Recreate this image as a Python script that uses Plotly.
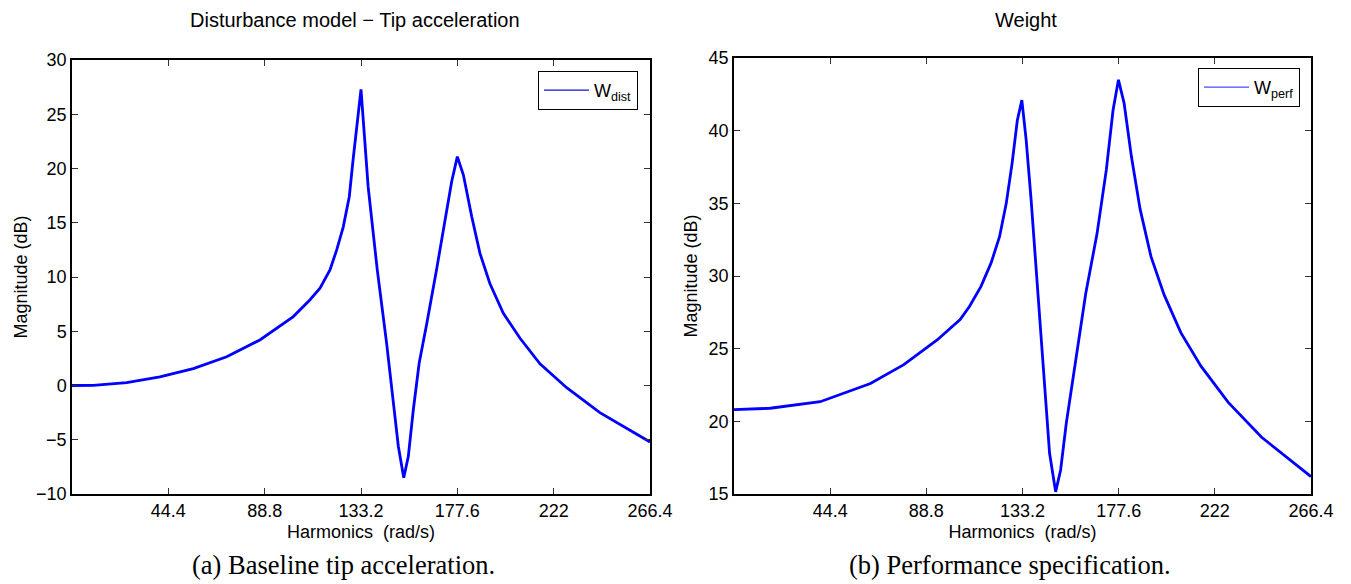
import plotly.graph_objects as go

# ---- data ----
x_dist = [0, 9.8, 25.2, 40.5, 55.9, 71.3, 86.6, 102.0, 109.7, 114.3, 118.9, 122.0, 125.0, 127.8, 129.6,
          133.2, 136.5, 140.7, 145.0, 150.4, 152.9, 155.0, 157.3, 160.0, 163.5, 168.0, 175.0, 177.6,
          180.4, 184.2, 188.0, 192.6, 198.8, 206.5, 215.7, 228.0, 243.3, 266.4]
y_dist = [0.0, 0.02, 0.26, 0.8, 1.55, 2.65, 4.2, 6.35, 7.9, 8.96, 10.65, 12.5, 14.6, 17.4, 20.9,
          27.3, 18.3, 10.65, 3.9, -5.6, -8.5, -6.55, -2.26, 2.05, 5.7, 10.65, 18.8, 21.1,
          19.4, 15.6, 12.2, 9.4, 6.65, 4.35, 2.0, -0.2, -2.5, -5.2]

x_perf = [0, 16.7, 39.8, 63.0, 78.4, 93.8, 104.4, 108.7, 114.1, 118.7, 122.6, 125.7, 128.4, 130.8,
          132.9, 134.9, 137.2, 139.5, 141.9, 145.7, 148.5, 150.8, 153.4, 157.3, 162.4, 167.6, 171.9,
          175.0, 177.5, 180.1, 183.5, 187.5, 192.5, 198.6, 206.3, 215.6, 228.2, 243.6, 266.4]
y_perf = [20.8, 20.9, 21.35, 22.6, 23.9, 25.6, 27.0, 27.9, 29.3, 30.9, 32.7, 35.0, 37.75, 40.7,
          42.1, 39.35, 35.2, 30.6, 25.8, 17.8, 15.15, 16.65, 19.85, 23.75, 28.8, 32.9, 37.3,
          41.4, 43.5, 41.9, 38.2, 34.6, 31.35, 28.7, 26.1, 23.8, 21.3, 18.9, 16.2]

x_ticks = [44.4, 88.8, 133.2, 177.6, 222, 266.4]
x_ticklabels = ["44.4", "88.8", "133.2", "177.6", "222", "266.4"]
y_ticks_dist = [-10, -5, 0, 5, 10, 15, 20, 25, 30]
y_ticks_perf = [15, 20, 25, 30, 35, 40, 45]

titles = ["Disturbance model \u2212 Tip acceleration", "Weight"]
captions = ["(a) Baseline tip acceleration.", "(b) Performance specification."]
legend_names = ["W<sub>dist</sub>", "W<sub>perf</sub>"]
x_title = "Harmonics  (rad/s)"
y_title = "Magnitude (dB)"

# ---- layout geometry (page body has an 8px margin, so the figure is offset by it) ----
OFF = 8
W, H = 1351 - OFF, 584 - OFF
def px_x(p): return (p - OFF) / W
def px_y(p): return 1 - (p - OFF) / H

SANS = "Liberation Sans, Arial, sans-serif"
SERIF = "Liberation Serif, Times New Roman, serif"
FS = 18

fig = go.Figure()

fig.add_trace(go.Scatter(x=x_dist, y=y_dist, mode="lines", line=dict(color="#0000ff", width=2.8),
                         xaxis="x", yaxis="y", showlegend=False))
fig.add_trace(go.Scatter(x=[None], y=[None], mode="lines", line=dict(color="#1010c8", width=1.2),
                         xaxis="x", yaxis="y", name=legend_names[0], legend="legend"))
fig.add_trace(go.Scatter(x=x_perf, y=y_perf, mode="lines", line=dict(color="#0000ff", width=2.8),
                         xaxis="x2", yaxis="y2", showlegend=False))
fig.add_trace(go.Scatter(x=[None], y=[None], mode="lines", line=dict(color="#4a4aff", width=1.2),
                         xaxis="x2", yaxis="y2", name=legend_names[1], legend="legend2"))

axis_common = dict(showgrid=False, zeroline=False, showline=True, linecolor="black", linewidth=1.5,
                   mirror="ticks", ticks="inside", ticklen=6, tickwidth=1, tickcolor="#333333",
                   automargin=False,
                   tickfont=dict(family=SANS, size=FS, color="black"))
title_font = dict(family=SANS, size=FS, color="black")

leg_common = dict(xanchor="right", yanchor="top", bordercolor="black", borderwidth=1, bgcolor="white",
                  font=dict(family=SANS, size=FS, color="black"), itemwidth=45, tracegroupgap=0)

fig.update_layout(
    width=W, height=H, autosize=False,
    margin=dict(l=0, r=0, t=0, b=0, pad=0, autoexpand=False),
    paper_bgcolor="white", plot_bgcolor="white",
    xaxis=dict(domain=[px_x(72), px_x(650)], range=[0, 266.4], anchor="y",
               tickvals=x_ticks, ticktext=x_ticklabels,
               title=dict(text=x_title, font=title_font, standoff=5),
               **axis_common),
    yaxis=dict(domain=[px_y(494), px_y(60)], range=[-10, 30], anchor="x",
               tickvals=y_ticks_dist,
               title=dict(text=y_title, font=title_font, standoff=4),
               **axis_common),
    xaxis2=dict(domain=[px_x(734), px_x(1311)], range=[0, 266.4], anchor="y2",
                tickvals=x_ticks, ticktext=x_ticklabels,
                title=dict(text=x_title, font=title_font, standoff=5),
                **axis_common),
    yaxis2=dict(domain=[px_y(494), px_y(58)], range=[15, 45], anchor="x2",
                tickvals=y_ticks_perf,
                title=dict(text=y_title, font=title_font, standoff=6),
                **axis_common),
    legend=dict(x=px_x(638), y=px_y(71), **leg_common),
    legend2=dict(x=px_x(1300), y=px_y(68), **leg_common),
    showlegend=True,
)

annotations = [
    dict(text=titles[0], x=px_x(355), y=px_y(20), xref="paper", yref="paper", showarrow=False,
         font=dict(family=SANS, size=20, color="black"), xanchor="center", yanchor="middle"),
    dict(text=titles[1], x=px_x(1026), y=px_y(20), xref="paper", yref="paper", showarrow=False,
         font=dict(family=SANS, size=20, color="black"), xanchor="center", yanchor="middle"),
    dict(text=captions[0], x=px_x(343), y=px_y(565), xref="paper", yref="paper", showarrow=False,
         font=dict(family=SERIF, size=26.5, color="black"), xanchor="center", yanchor="middle"),
    dict(text=captions[1], x=px_x(1010), y=px_y(565), xref="paper", yref="paper", showarrow=False,
         font=dict(family=SERIF, size=26.5, color="black"), xanchor="center", yanchor="middle"),
]
fig.update_layout(annotations=annotations)

fig.write_html("out.html")
